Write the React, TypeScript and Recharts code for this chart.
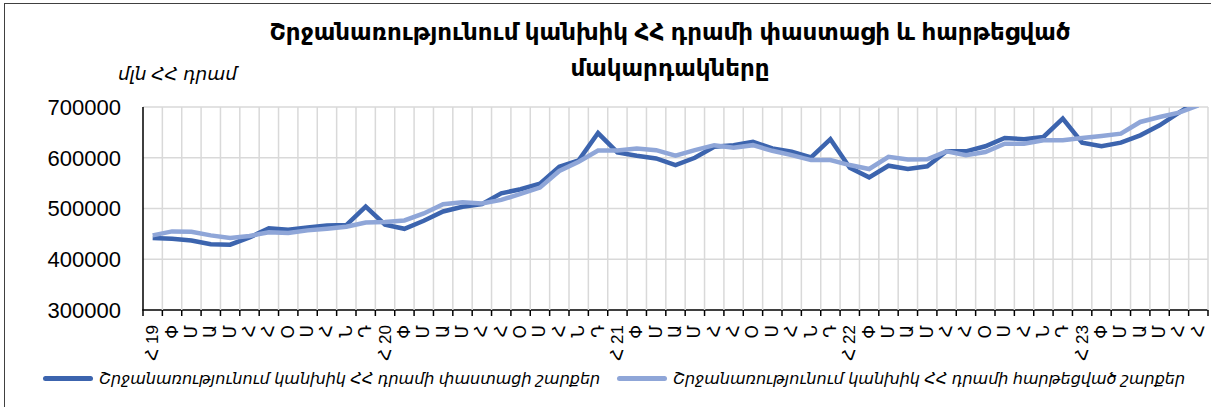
import React from 'react';
import { LineChart, Line, XAxis, YAxis, CartesianGrid } from 'recharts';

const monthLetters = ['Հ', 'Փ', 'Մ', 'Ա', 'Մ', 'Հ', 'Հ', 'Օ', 'Ս', 'Հ', 'Ն', 'Դ'];
const yearLabels = ['19', '20', '21', '22', '23'];

const actualValues = [
  441800, 440500, 437000, 429500, 428800, 443000, 460800, 458200, 462700, 466700, 467300, 503900,
  468000, 460000, 475800, 494100, 503300, 508500, 530000, 537900, 549000, 582400, 594800, 648700,
  610500, 604000, 598700, 585600, 600000, 621600, 624800, 631400, 618300, 611800, 600700, 636600,
  580400, 561400, 584300, 577800, 583200, 612700, 612700, 622600, 639000, 636400, 640900, 677000,
  629800, 622600, 629800, 644200, 663900, 688800, 713000,
];

const smoothedValues = [
  447000, 454900, 454000, 447000, 441800, 446000, 453000, 451600, 456900, 460100, 464100, 472500,
  473200, 476500, 490200, 508500, 512400, 509800, 517000, 528800, 541200, 573900, 592200, 614400,
  614400, 618300, 615000, 603900, 615000, 624800, 619600, 624800, 613700, 605200, 595400, 595400,
  585600, 577800, 602000, 596700, 597000, 612700, 604900, 611400, 627800, 627800, 634400, 634400,
  639000, 642900, 647500, 670500, 680300, 688800, 703300,
];

const yTicks = [300000, 400000, 500000, 600000, 700000];
const seriesNames = [
  'Շրջանառությունում կանխիկ ՀՀ դրամի փաստացի շարքեր',
  'Շրջանառությունում կանխիկ ՀՀ դրամի հարթեցված շարքեր',
];
const titleLines = ['Շրջանառությունում կանխիկ ՀՀ դրամի փաստացի և հարթեցված', 'մակարդակները'];
const unitLabel = 'մլն ՀՀ դրամ';

const DARK = '#3c64ae';
const LIGHT = '#8fa6d8';
const GRID = '#d9d9d9';
const AXIS = '#000';
const FONT = 'Arial, "Liberation Sans", "DejaVu Sans", sans-serif';

const yMin = yTicks[0];
const yMax = yTicks[yTicks.length - 1];

const data = actualValues.map((v, i) => ({
  i,
  label: i % 12 === 0 ? `${monthLetters[0]} ${yearLabels[i / 12]}` : monthLetters[i % 12],
  actual: v,
  smoothed: smoothedValues[i],
}));

const labelTicks = data.map((d) => d.i);
const boundaryTicks = [...data.map((d) => d.i - 0.5), data.length - 0.5];
const xDomain = [-0.5, data.length - 0.5];

const MonthTick = (props: any) => {
  const { x, y, payload } = props;
  const row = data[Math.round(payload.value)];
  if (!row) return null;
  return (
    <text
      x={x}
      y={y}
      transform={`rotate(-90, ${x}, ${y})`}
      textAnchor="end"
      dominantBaseline="central"
      fontSize={17}
      fill="#000"
      fontFamily={FONT}
    >
      {row.label}
    </text>
  );
};

const TickMark = (props: any) => {
  const { x, y } = props;
  return <path d={`M${x},${y}V${y + 6}`} stroke={AXIS} strokeWidth={1.5} fill="none" />;
};

// Vertical grid line renderer; the left-edge line also draws the horizontal
// value gridlines and both axis lines (from the grid box and the y domain).
const VLine = (props: any) => {
  const { x1, y1, x2, y2, x, width } = props;
  const isAxis = Math.abs(x1 - x) < 1;
  if (!isAxis) {
    return (
      <path d={`M${x1},${y1}L${x2},${y2}`} stroke={GRID} strokeWidth={1.5} fill="none" />
    );
  }
  const top = y1;
  const bottom = y2;
  const toY = (v: number) => top + ((yMax - v) / (yMax - yMin)) * (bottom - top);
  return (
    <g>
      {yTicks
        .filter((v) => v !== yMin)
        .map((v) => (
          <rect key={v} x={x} y={toY(v) - 0.75} width={width} height={1.5} fill={GRID} />
        ))}
      <rect x={x - 0.75} y={top} width={1.5} height={bottom - top} fill={AXIS} />
      <rect x={x - 0.75} y={toY(yMin) - 0.75} width={width + 0.75} height={1.5} fill={AXIS} />
    </g>
  );
};

export default function App() {
  return (
    <div
      style={{
        position: 'absolute',
        left: 0,
        top: 0,
        width: 1211,
        height: 407,
        background: '#fff',
        overflow: 'hidden',
        fontFamily: FONT,
      }}
    >
      <style>{'.recharts-line{clip-path:none !important;}'}</style>
      <div
        style={{
          position: 'absolute',
          left: 4,
          top: 3,
          width: 1220,
          height: 420,
          border: '1px solid #404040',
          boxSizing: 'border-box',
        }}
      />
      <div
        style={{
          position: 'absolute',
          left: 170,
          top: 14,
          width: 1000,
          textAlign: 'center',
          fontWeight: 'bold',
          fontSize: 23,
          lineHeight: '36px',
          color: '#000',
        }}
      >
        <div>{titleLines[0]}</div>
        <div>{titleLines[1]}</div>
      </div>
      <div
        style={{
          position: 'absolute',
          left: 118,
          top: 63,
          fontStyle: 'italic',
          fontSize: 18.5,
          color: '#000',
        }}
      >
        {unitLabel}
      </div>
      <div style={{ position: 'absolute', left: 0, top: 0 }}>
        <LineChart
          width={1211}
          height={407}
          data={data}
          margin={{ top: 107, right: 3, left: 0, bottom: 40 }}
        >
          <CartesianGrid
            stroke={GRID}
            strokeWidth={1.5}
            horizontal={false}
            vertical={(p: any) => <VLine {...p} />}
          />
          <XAxis
            type="number"
            dataKey="i"
            domain={xDomain}
            ticks={boundaryTicks}
            interval={0}
            tick={<TickMark />}
            tickSize={0}
            tickMargin={0}
            height={1}
            allowDataOverflow
            axisLine={false}
            tickLine={false}
          />
          <XAxis
            xAxisId="lab"
            type="number"
            dataKey="i"
            domain={xDomain}
            ticks={labelTicks}
            interval={0}
            tick={<MonthTick />}
            tickSize={6}
            tickMargin={8}
            height={56}
            allowDataOverflow
            axisLine={false}
            tickLine={false}
          />
          <YAxis
            type="number"
            domain={[yMin, yMax]}
            ticks={yTicks}
            allowDataOverflow
            width={143}
            interval={0}
            tickLine={false}
            axisLine={false}
            tickMargin={16}
            tick={{ fill: '#000', fontSize: 22, fontFamily: FONT }}
          />
          <Line
            xAxisId="lab"
            type="linear"
            dataKey="actual"
            name={seriesNames[0]}
            stroke={DARK}
            strokeWidth={4.5}
            dot={false}
            isAnimationActive={false}
          />
          <Line
            xAxisId="lab"
            type="linear"
            dataKey="smoothed"
            name={seriesNames[1]}
            stroke={LIGHT}
            strokeWidth={4.5}
            dot={false}
            isAnimationActive={false}
          />
        </LineChart>
      </div>
      {[0, 1].map((k) => (
        <div
          key={k}
          style={{
            position: 'absolute',
            left: k === 0 ? 43 : 617,
            top: 369,
            display: 'flex',
            alignItems: 'center',
            fontStyle: 'italic',
            fontSize: 16,
            color: '#000',
            whiteSpace: 'nowrap',
          }}
        >
          <span
            style={{
              display: 'inline-block',
              width: 50,
              height: 5,
              borderRadius: 3,
              background: k === 0 ? DARK : LIGHT,
              marginRight: 6,
            }}
          />
          <span>{seriesNames[k]}</span>
        </div>
      ))}
    </div>
  );
}
